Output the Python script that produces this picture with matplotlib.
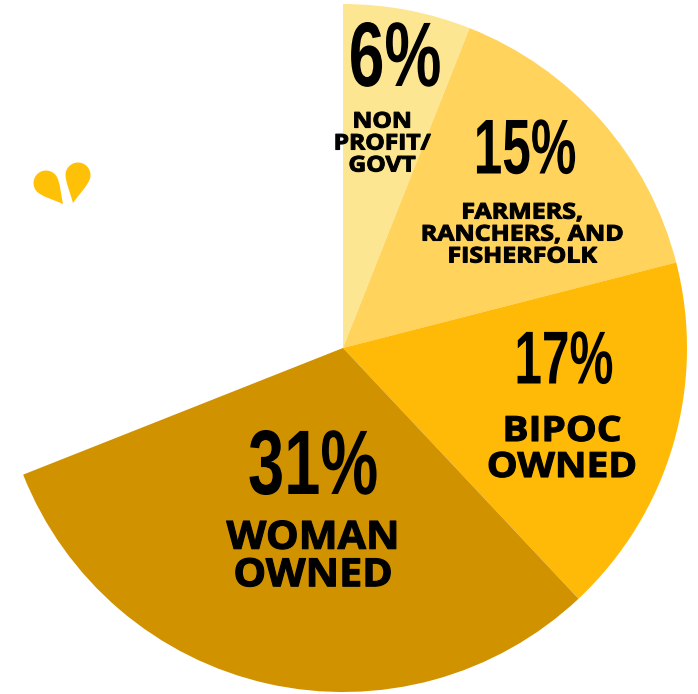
import matplotlib
matplotlib.use('Agg')
import numpy as np
import matplotlib.pyplot as plt
from matplotlib.patches import PathPatch
from matplotlib.path import Path
from matplotlib.patheffects import AbstractPathEffect
from matplotlib.transforms import Affine2D

# share of each group clockwise from 12 o'clock, the rest of the circle is empty
shares = [6, 15, 17, 31]
pcts = ['6%', '15%', '17%', '31%']
names = ['NON\nPROFIT/\nGOVT', 'FARMERS,\nRANCHERS, AND\nFISHERFOLK', 'BIPOC\nOWNED', 'WOMAN\nOWNED']
colors = ['#FDE692', '#FFD35C', '#FFB907', '#D19200']

W, H = 698, 694
cx, cy, r = 343, 348, 344

# pixel spots and sizes of the text blocks
pct_xy = [(395, 62), (525, 153), (564, 364), (313, 470)]
pct_size = [66, 56, 54, 66]
pct_sx = [0.70, 0.66, 0.66, 0.71]
name_xy = [(382, 144), (522, 235), (562, 450), (313, 557)]
name_size = [15.5, 15.5, 25, 28]
name_sx = [1.14, 1.16, 1.12, 1.06]
name_gap = [1.06, 1.06, 1.0, 0.95]


class Squeeze(AbstractPathEffect):
    # rescales the glyphs around x0 (pixels), the text stays a normal Text
    def __init__(self, x0, sx, lw=0):
        super().__init__()
        self.x0, self.sx, self.lw = x0, sx, lw

    def draw_path(self, renderer, gc, tpath, affine, rgbFace=None):
        aff = affine + Affine2D().translate(-self.x0, 0).scale(self.sx, 1).translate(self.x0, 0)
        gc0 = renderer.new_gc()
        gc0.copy_properties(gc)
        gc0.set_linewidth(self.lw)
        gc0.set_foreground('black')
        renderer.draw_path(gc0, tpath, aff, rgbFace)
        gc0.restore()


def drop(ax, head, tip, rad, color):
    c, t = np.array(head, float), np.array(tip, float)
    u = (t - c) / np.linalg.norm(t - c)
    n = np.array([-u[1], u[0]])
    k = 0.55 * rad
    verts = [t,
             t - 0.25 * np.linalg.norm(t - c) * u + 0.25 * rad * n, c + 0.6 * rad * u + rad * n, c + rad * n,
             c + rad * n - k * u, c - rad * u + k * n, c - rad * u,
             c - rad * u - k * n, c - rad * n - k * u, c - rad * n,
             c + 0.6 * rad * u - rad * n, t - 0.25 * np.linalg.norm(t - c) * u - 0.25 * rad * n, t,
             t]
    codes = [Path.MOVETO] + [Path.CURVE4] * 12 + [Path.CLOSEPOLY]
    ax.add_patch(PathPatch(Path(verts, codes), fc=color, ec='none'))


fig = plt.figure(figsize=(W / 100, H / 100), dpi=100)
ax = fig.add_axes([0, 0, 1, 1])

# y axis runs downward so the pie comes out clockwise from the top
ax.pie(shares + [100 - sum(shares)], colors=colors + ['none'], startangle=270,
       counterclock=True, center=(cx, cy), radius=r, frame=True)
ax.set_xlim(0, W)
ax.set_ylim(H, 0)
ax.set_aspect('equal')
ax.axis('off')

drop(ax, (46, 183), (63, 204), 12.5, '#FFC107')
drop(ax, (78, 175), (73, 203), 12.5, '#FFC107')

for (x, y), s, sx, t in zip(pct_xy, pct_size, pct_sx, pcts):
    txt = ax.text(x, y, t, ha='center', va='center', fontsize=s, fontweight='bold',
                  family='Liberation Sans', color='black')
    txt.set_path_effects([Squeeze(x, sx)])
for (x, y), s, sx, g, t in zip(name_xy, name_size, name_sx, name_gap, names):
    txt = ax.text(x, y, t, ha='center', va='center', fontsize=s, fontweight='bold',
                  family='Open Sans', color='black', linespacing=g)
    txt.set_path_effects([Squeeze(x, sx, lw=0.8)])

fig.savefig('out.png', dpi=100)
